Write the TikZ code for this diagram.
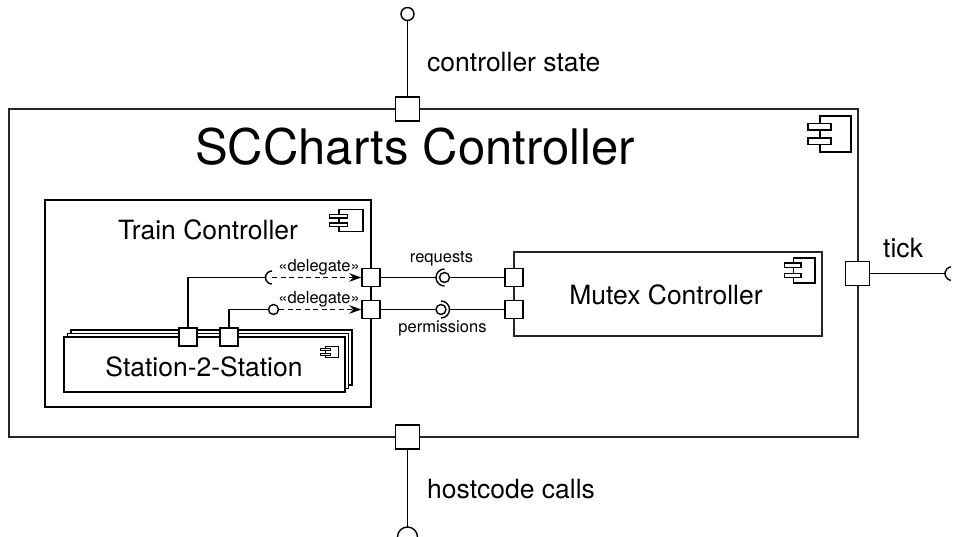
\documentclass[tikz,border=0pt]{standalone}
\usepackage{fontspec}
\setmainfont{TeX Gyre Heros}
\usetikzlibrary{arrows.meta}
\tikzset{
  box/.style={draw=black!85, line width=1.5pt, fill=white, inner sep=0pt, rectangle},
  port/.style={draw, line width=1.4pt, fill=white, rectangle, minimum size=#1, inner sep=0pt},
  port/.default=18pt,
  conn/.style={line width=1.4pt},
  deleg/.style={line width=1.4pt, dash pattern=on 5pt off 3.5pt, -{Stealth[length=12pt,width=8.5pt]}},
  ballnode/.style={circle, draw, line width=1.4pt, fill=white, minimum size=#1, inner sep=0pt},
  biglbl/.style={inner sep=0pt, anchor=base, font=\fontsize{49}{55}\selectfont},
  midlbl/.style={inner sep=0pt, anchor=base, font=\fontsize{26.5}{30}\selectfont},
  sidelbl/.style={inner sep=0pt, anchor=base west, font=\fontsize{26.5}{30}\selectfont},
  smalllbl/.style={inner sep=0pt, anchor=base, font=\fontsize{16.5}{19}\selectfont},
  compicon/.pic={
    \draw[fill=white] (-15.5,-18) rectangle (15.5,18);
    \draw[fill=white] (-27.5,-10.5) rectangle (-4.5,-4);
    \draw[fill=white] (-27.5,4) rectangle (-4.5,10.5);
  }
}
\begin{document}
\begin{tikzpicture}[x=1pt,y=-1pt]
\useasboundingbox (0,0) rectangle (953,537);
\fill[white] (0,0) rectangle (953,537);

% boxes
\node[box, minimum width=849pt, minimum height=328pt] (scc) at (433.5,273) {};
\node[box, draw=black, line width=2.2pt, minimum width=326pt, minimum height=207pt] (tc) at (208,303.5) {};
\node[box, draw=black, line width=1.6pt, minimum width=281pt, minimum height=55pt] (st3) at (211.5,357.5) {};
\node[box, draw=black, line width=1.6pt, minimum width=281pt, minimum height=55pt] (st2) at (208,361) {};
\node[box, draw=black, line width=1.6pt, minimum width=281pt, minimum height=55pt] (st1) at (204.5,364.5) {};
\node[box, minimum width=308pt, minimum height=84pt] (mc) at (668,294) {};

% icons
\pic[line width=1.4pt] at (835.5,134) {compicon};
\pic[line width=1.3pt, xscale=0.78, yscale=0.6] at (351,220.5) {compicon};
\pic[line width=1.3pt, scale=0.7] at (804,270.5) {compicon};
\pic[line width=1.1pt, xscale=0.42, yscale=0.32] at (332,352) {compicon};

% titles
\node[biglbl] (scctitle) at (415,165) {SCCharts Controller};
\node[midlbl] (tctitle) at (208,240) {Train Controller};
\node[midlbl] (sttitle) at (204,376) {Station-2-Station};
\node[midlbl] (mctitle) at (666,305) {Mutex Controller};

% ports
\node[port=24pt] (ptop) at (407.5,109) {};
\node[port=24pt] (pbot) at (407.5,437) {};
\node[port=24pt] (pright) at (857.5,273.5) {};
\node[port] (tp1) at (371,277.5) {};
\node[port] (tp2) at (371,309.5) {};
\node[port] (mp1) at (514,277.5) {};
\node[port] (mp2) at (514,309.5) {};
\node[port] (sp1) at (188,337) {};
\node[port] (sp2) at (229,337) {};

% outer interfaces
\node[ballnode=13pt] (topball) at (407.5,14) {};
\draw[conn] (ptop) -- (topball);
\node[sidelbl] (cslbl) at (427,72) {controller state};

\coordinate (botsock) at (407.5,527);
\draw[conn] (pbot) -- (botsock);
\draw[conn] (397.5,537) arc[start angle=180, end angle=360, radius=10];
\node[sidelbl] (hclbl) at (427,498) {hostcode calls};

\coordinate (ticksock) at (945,273.5);
\draw[conn] (pright) -- (ticksock);
\draw[conn] (952,273.5) ++(100:7) arc[start angle=100, end angle=260, radius=7];
\node[sidelbl] (ticklbl) at (883,258) {tick};

% requests assembly
\coordinate (reqc) at (444.5,277.5);
\coordinate (reqsock) at (436,277.5);
\node[ballnode=10pt] (reqball) at (reqc) {};
\draw[conn] (reqc) ++(90:8.5) arc[start angle=90, end angle=270, radius=8.5];
\draw[conn] (tp1) -- (reqsock);
\draw[conn] (mp1) -- (reqball);
\node[smalllbl] (reqlbl) at (441.5,263) {requests};

% permissions assembly
\coordinate (permc) at (441,309.5);
\coordinate (permsock) at (449.5,309.5);
\node[ballnode=10pt] (permball) at (permc) {};
\draw[conn] (permc) ++(-90:8.5) arc[start angle=-90, end angle=90, radius=8.5];
\draw[conn] (tp2) -- (permball);
\draw[conn] (mp2) -- (permsock);
\node[smalllbl] (permlbl) at (442.5,333) {permissions};

% delegates
\coordinate (dsc) at (272,277.5);
\coordinate (dsock) at (265.5,277.5);
\draw[conn] (dsc) ++(90:6.5) arc[start angle=90, end angle=270, radius=6.5];
\draw[conn] (sp1) |- (dsock);
\draw[deleg] (dsc) -- (tp1);
\node[smalllbl] (dl1) at (319,272) {«delegate»};

\node[ballnode=10pt] (dball) at (273.5,309.5) {};
\draw[conn] (sp2) |- (dball);
\draw[deleg] (dball) -- (tp2);
\node[smalllbl] (dl2) at (319,304) {«delegate»};
\end{tikzpicture}
\end{document}
